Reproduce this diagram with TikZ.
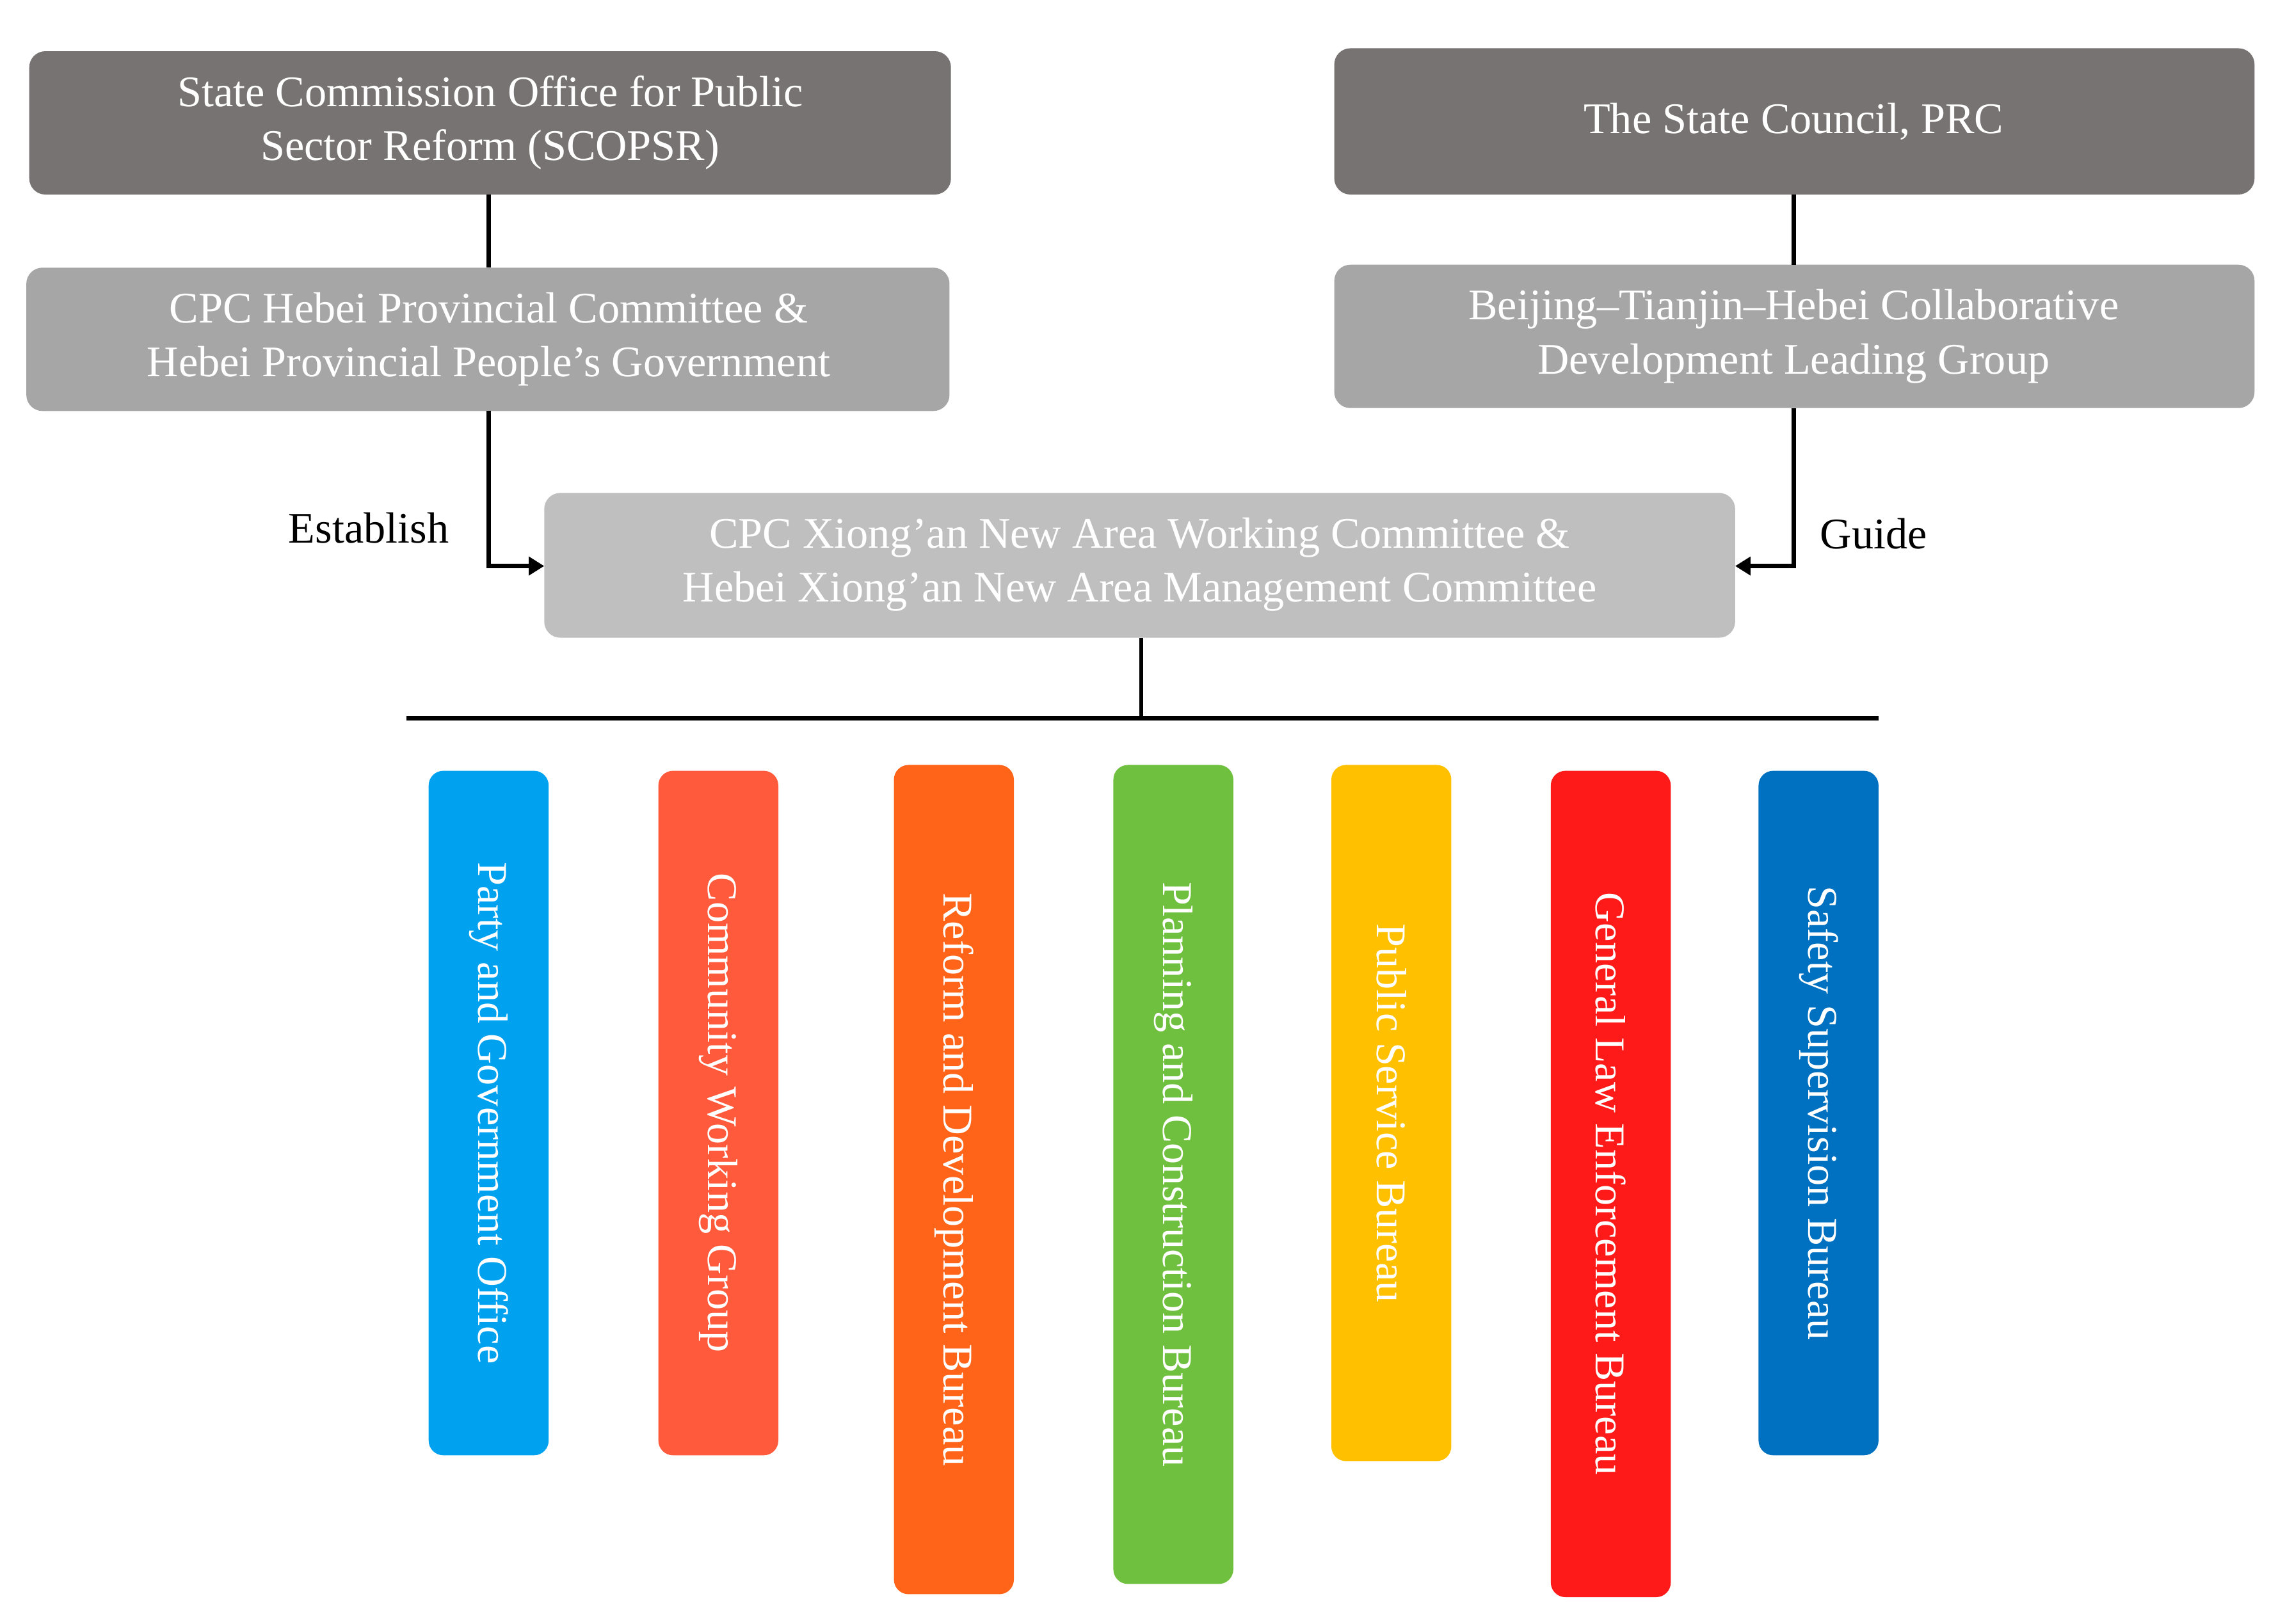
\documentclass[tikz,border=0pt]{standalone}
\usepackage{fontspec}
\setmainfont{Liberation Serif}
\usetikzlibrary{arrows.meta}
\begin{document}
\begin{tikzpicture}[x=0.02cm,y=-0.02cm,
 box/.style={rounded corners=0.22cm,text=white,align=center,font=\fontsize{17}{21}\selectfont,inner sep=0pt},
 bar/.style={rounded corners=0.2cm,text=white,font=\fontsize{16.5}{20}\selectfont,inner sep=0pt},
 con/.style={line width=1.6pt},
 arr/.style={con,-{Triangle[length=6pt,width=7pt]}}]
\useasboundingbox (0,0) rectangle (1568,1110);
\definecolor{dg}{HTML}{787373}\definecolor{mg}{HTML}{A6A6A6}\definecolor{lg}{HTML}{BFBFBF}
\fill[dg,rounded corners=0.22cm] (20,35) rectangle (650,133);
\node[box] (s) at (335,84) {State Commission Office for Public\\Sector Reform (SCOPSR)};
\fill[dg,rounded corners=0.22cm] (912,33) rectangle (1541,133);
\node[box] (c) at (1226,83) {The State Council, PRC};
\fill[mg,rounded corners=0.22cm] (18,183) rectangle (649,281);
\node[box] (h) at (334,232) {CPC Hebei Provincial Committee \&\\Hebei Provincial People's Government};
\fill[mg,rounded corners=0.22cm] (912,181) rectangle (1541,279);
\node[box] (b) at (1226,230) {Beijing--Tianjin--Hebei Collaborative\\Development Leading Group};
\fill[lg,rounded corners=0.22cm] (372,337) rectangle (1186,436);
\node[box] (x) at (779,386) {CPC Xiong'an New Area Working Committee \&\\Hebei Xiong'an New Area Management Committee};
\coordinate (s1) at (334,133);\coordinate (s2) at (334,183);
\draw[con] (s1) -- (s2);
\coordinate (c1) at (1226,133);\coordinate (c2) at (1226,181);
\draw[con] (c1) -- (c2);
\coordinate (h1) at (334,281);\coordinate (x1) at (372,387);
\draw[arr] (h1) |- (x1);
\coordinate (b1) at (1226,279);\coordinate (x2) at (1186,387);
\draw[arr] (b1) |- (x2);
\node[font=\fontsize{17}{20}\selectfont,anchor=east] (est) at (313,361) {Establish};
\node[font=\fontsize{17}{20}\selectfont,anchor=west] (gd) at (1238,365) {Guide};
\coordinate (x3) at (780,436);\coordinate (bus) at (780,491);
\draw[con] (x3) -- (bus);
\coordinate (bl) at (278,491);\coordinate (br) at (1284,491);
\draw[con] (bl) -- (br);
\foreach \n/\cx/\ya/\yb/\col/\t in {
 p/334/527/995/00A2F0/Party and Government Office,
 q/491/527/995/FF5A3C/Community Working Group,
 r/652/523/1090/FF6418/Reform and Development Bureau,
 pl/802/523/1083/70C040/Planning and Construction Bureau,
 ps/951/523/999/FFC000/Public Service Bureau,
 g/1101/527/1092/FF1A1A/General Law Enforcement Bureau,
 sa/1243/527/995/0070C0/Safety Supervision Bureau}{
 \definecolor{bc}{HTML}{\col}
 \fill[bc,rounded corners=0.2cm] (\cx-41,\ya) rectangle (\cx+41,\yb);
 \node[bar,rotate=-90] (\n) at (\cx,{(\ya+\yb)/2}) {\t};
}
\end{tikzpicture}
\end{document}
